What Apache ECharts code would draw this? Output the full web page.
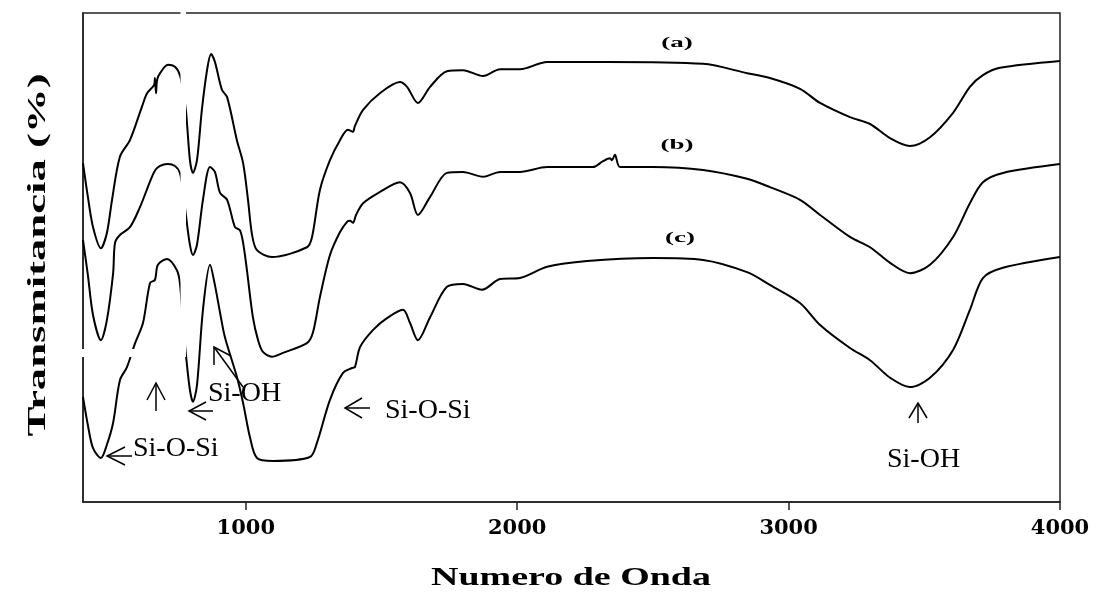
<!DOCTYPE html>
<html><head><meta charset="utf-8">
<script src="https://cdn.jsdelivr.net/npm/echarts@6/dist/echarts.min.js"></script>
<style>html,body{margin:0;padding:0;background:#fff}#c{width:1097px;height:593px}</style>
</head><body><div id="c"></div>
<script>
// Spectrum (a)
const waveA = [400,418,437,466,488,507,536,573,617,636,662,665,669,673,684,713,739,757,768,780,794,805,820,838,857,872,886,912,931,967,990,1008,1023,1041,1096,1225,1244,1273,1310,1347,1376,1387,1395,1402,1432,1494,1568,1594,1634,1679,1741,1800,1874,1937,2010,2110,2331,2685,2847,2931,3042,3116,3226,3300,3374,3447,3521,3606,3668,3716,3779,4000];
const transA = [69.3,62.4,56.2,51.9,55.0,61.8,70.6,74.0,80.8,83.6,85.3,86.7,83.6,86.3,87.7,89.4,89.0,87.3,84.3,79.6,69.9,67.3,69.9,80.2,88.3,91.6,90.0,84.3,82.8,74.0,69.3,61.8,54.6,51.5,50.1,52.1,54.2,63.8,69.9,74.0,76.1,75.9,75.7,76.9,80.2,83.6,85.9,84.9,81.6,84.9,88.1,88.3,87.1,88.5,88.5,90.0,90.0,89.6,87.7,86.7,84.5,81.6,78.7,77.3,74.4,72.8,74.6,79.6,84.9,87.3,88.8,90.2];
// Spectrum (b)
const waveB = [400,418,437,466,488,511,518,536,573,610,654,673,713,739,757,768,780,794,805,820,842,868,886,905,931,960,978,990,1004,1026,1045,1063,1096,1137,1225,1247,1273,1310,1347,1373,1384,1395,1406,1432,1494,1568,1605,1634,1679,1741,1800,1874,1937,2010,2110,2279,2316,2342,2349,2360,2379,2500,2685,2847,2931,3042,3116,3226,3300,3374,3447,3521,3606,3668,3716,3790,4000];
const transB = [53.6,46.4,38.2,33.1,37.2,46.8,53.0,54.6,56.2,60.3,66.5,68.3,69.1,68.7,67.3,63.8,58.3,52.6,50.5,52.6,61.8,68.5,67.5,63.2,61.8,56.2,55.6,53.0,47.4,37.8,33.1,30.7,29.7,30.5,32.5,34.6,41.9,50.5,55.2,57.3,57.5,57.1,58.7,61.1,63.4,65.4,63.2,58.7,62.4,67.3,67.5,66.5,67.5,67.5,68.5,68.5,69.7,70.3,69.9,71.0,68.5,68.5,67.9,66.1,64.4,61.8,58.7,54.2,52.1,48.9,46.8,48.5,54.2,61.1,65.4,67.3,69.1];
// Spectrum (c)
const waveC = [400,418,437,466,488,511,536,562,592,621,647,665,676,710,746,757,768,780,794,805,820,842,868,886,905,923,967,990,1015,1041,1100,1236,1262,1310,1358,1391,1402,1421,1469,1520,1579,1605,1634,1679,1741,1800,1870,1937,2010,2110,2257,2500,2685,2847,2931,3042,3116,3226,3300,3374,3447,3521,3606,3668,3716,3790,4000];
const transC = [21.5,15.7,11.0,9.0,11.7,16.2,24.9,27.6,32.5,36.6,44.8,45.4,48.5,49.7,47.4,44.8,37.2,29.7,22.9,20.5,23.9,39.3,48.5,44.4,38.7,33.7,25.6,20.2,13.3,9.0,8.4,9.2,12.1,20.9,26.4,27.4,27.6,31.7,35.2,37.6,39.3,36.6,33.1,37.8,44.0,44.6,43.4,45.6,45.8,48.1,49.3,49.9,49.5,47.0,44.4,40.7,36.2,31.5,29.0,25.4,23.5,25.4,31.1,39.3,45.8,47.9,50.1];

const tickValues = [1000, 2000, 3000, 4000];
const seriesNames = ['(a)', '(b)', '(c)'];
const xTitle = 'Numero de Onda';
const yTitle = 'Transmitancia (%)';

const pairs = (w, t) => w.map((x, i) => [x, t[i]]);
const allSeries = [pairs(waveA, transA), pairs(waveB, transB), pairs(waveC, transC)];

const chart = echarts.init(document.getElementById('c'), null, {renderer: 'canvas'});
const SERIF = 'Liberation Serif';

const lbl = (text, x, y, size, sx) => ({
  type: 'text', x: x, y: y, scaleX: sx, z: 110,
  style: {text: text, align: 'center', verticalAlign: 'middle', fill: '#000',
          fontFamily: SERIF, fontWeight: 'bold', fontSize: size}
});
const note = (text, x, y) => ({
  type: 'text', x: x, y: y, z: 110,
  style: {text: text, align: 'left', verticalAlign: 'middle', fill: '#000',
          fontFamily: SERIF, fontWeight: 'normal', fontSize: 28}
});
const seg = (pts) => ({
  type: 'polyline', z: 110, shape: {points: pts},
  style: {stroke: '#000', lineWidth: 1.5, fill: null}
});

const graphics = [
  // white break stripes seen in the reference
  {type: 'rect', z: 100, shape: {x: 180.5, y: 0, width: 5.5, height: 357}, style: {fill: '#fff'}},
  {type: 'rect', z: 100, shape: {x: 60, y: 349, width: 126, height: 8}, style: {fill: '#fff'}},
  // series labels
  lbl(seriesNames[0], 677, 43, 15, 1.8),
  lbl(seriesNames[1], 677, 145, 15, 1.8),
  lbl(seriesNames[2], 680, 238, 15, 1.8),
  // titles
  lbl(xTitle, 571, 578, 26, 1.46),
  Object.assign(lbl(yTitle, 38, 255, 26, 1.72), {rotation: Math.PI / 2}),
  // annotations
  seg([[132, 456], [107, 456]]), seg([[125, 447], [107, 456], [125, 465]]),
  note('Si-O-Si', 133, 449),
  seg([[156, 411], [156, 383]]), seg([[147, 400], [156, 383], [165, 400]]),
  seg([[213, 411], [189, 411]]), seg([[206, 402], [189, 411], [206, 420]]),
  seg([[243, 387], [214, 347]]), seg([[214, 365], [214, 347], [231, 356]]),
  note('Si-OH', 208, 394),
  seg([[370, 408], [345, 408]]), seg([[362, 398], [345, 408], [362, 418]]),
  note('Si-O-Si', 385, 411),
  seg([[918, 423], [918, 403]]), seg([[909, 418], [918, 403], [927, 418]]),
  note('Si-OH', 887, 460)
];

chart.setOption({
  animation: false,
  backgroundColor: '#fff',
  grid: {left: 83, right: 37, top: 13, bottom: 91, show: true, borderColor: '#222', borderWidth: 1.5, backgroundColor: 'transparent'},
  xAxis: {
    type: 'value', min: 400, max: 4000,
    axisLine: {show: true, onZero: false, lineStyle: {color: '#222', width: 1.5}},
    axisTick: {show: true, inside: false, length: 8, customValues: tickValues, lineStyle: {color: '#222', width: 1.5}},
    axisLabel: {show: true, customValues: tickValues, margin: 16, color: '#000',
      formatter: (v) => String(v),
      fontFamily: 'DejaVu Serif', fontWeight: 'bold', fontSize: 21},
    splitLine: {show: false}
  },
  yAxis: {
    type: 'value', min: 0, max: 100,
    axisLine: {show: true, lineStyle: {color: '#222', width: 1.5}},
    axisTick: {show: false}, axisLabel: {show: false}, splitLine: {show: false}
  },
  series: allSeries.map((d, i) => ({
    name: seriesNames[i], type: 'line', data: d, showSymbol: false,
    smooth: 0.3,
    lineStyle: {color: '#000', width: 2}, z: 5
  })),
  graphic: graphics
});
</script></body></html>
